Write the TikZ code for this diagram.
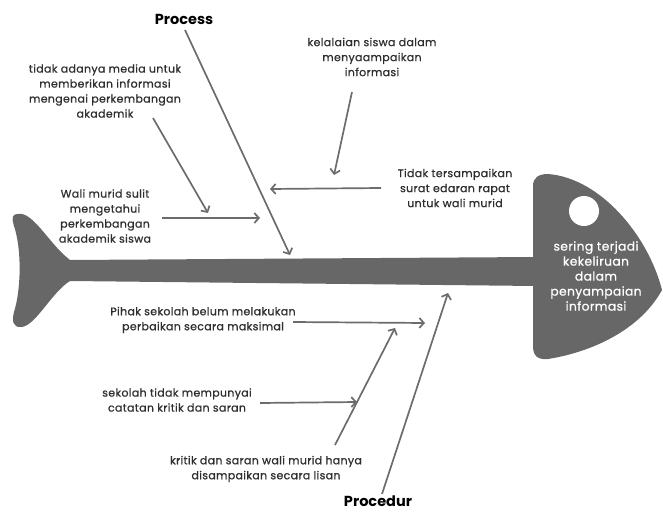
\documentclass[tikz,border=0pt]{standalone}
\usepackage{fontspec}
\setmainfont{Poppins}
\newfontfamily\labelfont{Poppins}[FakeBold=0.8, LetterSpace=3]
\usetikzlibrary{arrows.meta}
\definecolor{fishgray}{HTML}{676767}
\definecolor{bonegray}{HTML}{6C6C6C}
\definecolor{inkgray}{HTML}{2E2E2E}
\begin{document}
\begin{tikzpicture}[x=1pt,y=-1pt,
  cause/.style={align=center, text=inkgray, inner sep=0pt,
    font=\labelfont\fontsize{11}{15}\selectfont},
  category/.style={text=black, inner sep=0pt, anchor=base,
    font=\fontsize{14.5}{16}\selectfont\bfseries},
  effect/.style={align=center, text=white, inner sep=0pt,
    font=\labelfont\fontsize{12.3}{15}\selectfont},
  bone/.style={draw=bonegray, line width=1.7pt,
    -{Straight Barb[length=4.5pt,width=10pt,line width=1.7pt]}}]
\useasboundingbox (0,0) rectangle (663,513);

% fish body: tail fin and spine
\fill[fishgray]
  (18,214) .. controls (33,211) and (49,244) .. (70,260)
  -- (536,257) -- (536,286) -- (70,281)
  .. controls (52,292) and (36,325) .. (22,327)
  .. controls (12,328) and (12,320) .. (14,312)
  .. controls (21,290) and (22,250) .. (14,226)
  .. controls (11,216) and (13,214) .. (18,214) -- cycle;

% fish head
\fill[fishgray]
  (533,262) -- (533,186) .. controls (533,178) and (538,174) .. (548,174)
  .. controls (600,178) and (648,235) .. (662,290)
  .. controls (640,330) and (592,352) .. (548,359)
  .. controls (538,360) and (533,356) .. (533,346) -- (533,282) -- cycle;
\fill[white] (584,211) circle (15);

\node[effect] (effect) at (596,276)
  {sering terjadi\\kekeliruan\\dalam\\penyampaian\\informasi};

% category labels
\node[category] (process) at (184,25) {Process};
\node[category] (procedur) at (378,506) {Procedur};

% causes
\node[cause] (media) at (105,91)
  {tidak adanya media untuk\\memberikan informasi\\mengenai perkembangan\\akademik};
\node[cause] (wali) at (105,216)
  {Wali murid sulit\\mengetahui\\perkembangan\\akademik siswa};
\node[cause] (lalai) at (372,57)
  {kelalaian siswa dalam\\menyaampaikan\\informasi};
\node[cause] (surat) at (455,188)
  {Tidak tersampaikan\\surat edaran rapat\\untuk wali murid};
\node[cause] (pihak) at (203,320)
  {Pihak sekolah belum melakukan\\perbaikan secara maksimal};
\node[cause] (catatan) at (177,400)
  {sekolah tidak mempunyai\\catatan kritik dan saran};
\node[cause] (kritik) at (266,469)
  {kritik dan saran wali murid hanya\\disampaikan secara lisan};

% bone end points
\coordinate (processA) at (185,30);  \coordinate (processB) at (290,255);
\coordinate (mediaA) at (153,118);   \coordinate (mediaB) at (208,213);
\coordinate (waliA) at (162,218);    \coordinate (waliB) at (260,218);
\coordinate (lalaiA) at (352,92);    \coordinate (lalaiB) at (334,175);
\coordinate (suratA) at (381,188);   \coordinate (suratB) at (270,189);
\coordinate (pihakA) at (293,322);   \coordinate (pihakB) at (425,323);
\coordinate (catatanA) at (260,403); \coordinate (catatanB) at (357,402);
\coordinate (kritikA) at (335,445);  \coordinate (kritikB) at (395,328);
\coordinate (procedurA) at (382,494); \coordinate (procedurB) at (448,293);

% bones
\draw[bone] (processA) -- (processB);
\draw[bone] (mediaA) -- (mediaB);
\draw[bone] (waliA) -- (waliB);
\draw[bone] (lalaiA) -- (lalaiB);
\draw[bone] (suratA) -- (suratB);
\draw[bone] (pihakA) -- (pihakB);
\draw[bone] (catatanA) -- (catatanB);
\draw[bone] (kritikA) -- (kritikB);
\draw[bone] (procedurA) -- (procedurB);
\end{tikzpicture}
\end{document}
